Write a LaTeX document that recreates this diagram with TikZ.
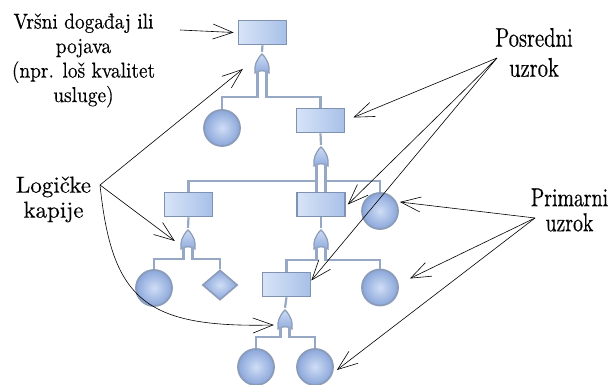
\documentclass[tikz,border=0pt]{standalone}
\usepackage{fontspec}
\newfontfamily\fleft[Extension=.otf, FakeStretch=0.9, FakeBold=0.3]{lmroman10-regular}
\newfontfamily\fmid[Extension=.otf, FakeBold=0.3]{lmroman10-regular}
\newfontfamily\fright[Extension=.otf, FakeStretch=0.76, FakeBold=0.3]{lmroman10-regular}
\usetikzlibrary{arrows.meta,calc,shapes.geometric}
\definecolor{boxline}{RGB}{128,146,178}
\definecolor{boxa}{RGB}{216,228,247}
\definecolor{boxb}{RGB}{168,192,232}
\definecolor{connc}{RGB}{150,168,196}
\definecolor{circa}{RGB}{208,222,246}
\definecolor{circb}{RGB}{138,166,218}
\definecolor{circline}{RGB}{140,156,184}
\begin{document}
\begin{tikzpicture}[x=1pt,y=-1pt,
  evbox/.style={draw=boxline, line width=1.6pt, left color=boxa, right color=boxb, minimum width=48pt, minimum height=24pt, inner sep=0pt},
  basic/.style={circle, draw=circline, line width=1.8pt, inner color=circa, outer color=circb, minimum size=36pt, inner sep=0pt},
  undev/.style={diamond, draw=circline, line width=1.6pt, inner color=circa, outer color=circb, minimum width=35pt, minimum height=30pt, inner sep=0pt},
  gate/.style={minimum width=18pt, minimum height=22pt, inner sep=0pt,
    path picture={\draw[shift={(path picture bounding box.center)}, draw=circline, line width=1.2pt, top color=circa, bottom color=circb]
      (0,-10) .. controls (2.5,-8) and (6.5,-2) .. (7,3) -- (7,9)
      .. controls (3,6) and (-3,6) .. (-7,9) -- (-7,3)
      .. controls (-6.5,-2) and (-2.5,-8) .. cycle;}},
  conn/.style={draw=connc, line width=2.2pt},
  ann/.style={draw=black, line width=0.6pt, -{Straight Barb[length=20pt,width=15pt]}},
  lbl/.style={align=center, inner sep=0pt}
]
\useasboundingbox (0,0) rectangle (608,385);

% events
\node[evbox] (b1) at (262.5,32.5) {};
\node[evbox] (b2) at (320.5,120.5) {};
\node[evbox] (b3) at (188.5,204.5) {};
\node[evbox] (b4) at (321,204.5) {};
\node[evbox] (b5) at (286.5,284.5) {};
% gates
\node[gate] (g1) at (262,64) {};
\node[gate] (g2) at (321,157) {};
\node[gate] (g3) at (188,240) {};
\node[gate] (g4) at (321,240) {};
\node[gate] (g5) at (285,320) {};
% basic events
\node[basic] (c1) at (222,128) {};
\node[basic] (c2) at (380,211) {};
\node[basic] (c3) at (154,288) {};
\node[basic] (c4) at (380,287.5) {};
\node[basic] (c5) at (256,367) {};
\node[basic] (c6) at (315,367) {};
\node[undev] (d1) at (220,285) {};

% junction levels
\coordinate (j1) at (0,97);
\coordinate (j2) at (0,181);
\coordinate (j3) at (0,259);
\coordinate (j4) at (0,260);
\coordinate (j5) at (0,337);
% gate legs
\foreach \g in {g1,g2,g3,g4,g5}{
  \coordinate (\g l) at ([shift={(-4.5,-4)}]\g.south);
  \coordinate (\g r) at ([shift={(4.5,-4)}]\g.south);
}
% connectors
\draw[conn] (b1.south) -- ([yshift=1pt]g1.north);
\draw[conn] (b2.south) -- ([yshift=1pt]g2.north);
\draw[conn] (b3.south) -- ([yshift=1pt]g3.north);
\draw[conn] (b4.south) -- ([yshift=1pt]g4.north);
\draw[conn] (b5.south) -- ([yshift=1pt]g5.north);

\draw[conn] (g1l) -- (g1l |- j1) -| (c1.north);
\draw[conn] (g1r) -- (g1r |- j1) -| (b2.north);

\draw[conn] (g2l) -- (g2l |- b4.north);
\draw[conn] (g2r) -- (g2r |- b4.north);
\draw[conn] (g2l |- j2) -| (b3.north);
\draw[conn] (g2r |- j2) -| (c2.north);

\draw[conn] (g3l) -- (g3l |- j3) -| (c3.north);
\draw[conn] (g3r) -- (g3r |- j3) -| (d1.north);

\draw[conn] (g4l) -- (g4l |- j4) -| (b5.north);
\draw[conn] (g4r) -- (g4r |- j4) -| (c4.north);

\draw[conn] (g5l) -- (g5l |- j5) -| (c5.north);
\draw[conn] (g5r) -- (g5r |- j5) -| (c6.north);

% labels
\node[lbl, font=\fleft\fontsize{21.5}{24.5}\selectfont] (t1) at (83.5,60.5) {Vršni događaj ili\\pojava\\(npr. loš kvalitet\\usluge)};
\node[lbl, font=\fmid\fontsize{23}{25}\selectfont] (t2) at (53.5,199.5) {Logičke\\kapije};
\node[lbl, font=\fright\fontsize{27}{30}\selectfont] (t3) at (534,52.5) {Posredni\\uzrok};
\node[lbl, font=\fright\fontsize{26}{25}\selectfont] (t4) at (569.5,210) {Primarni\\uzrok};

\coordinate (s1) at (180,30);
\coordinate (s2) at (100,185);
\coordinate (s3) at (497,58);
\coordinate (s4) at (535,218);

\draw[ann] (s1) -- ([xshift=-4pt]b1.west);
\draw[ann] (s2) -- ([shift={(-10,5)}]g1.west);
\draw[ann] (s2) -- ([shift={(-4,1)}]g3.west);
\draw[ann] (s2) .. controls (112,300) and (145,328) .. ([shift={(-2,5)}]g5.west);
\draw[ann] (s3) -- ([shift={(8,-3)}]b2.east);
\draw[ann] (s3) -- ([shift={(2,0)}]b4.east);
\draw[ann] (s3) -- ([shift={(0,-4)}]b5.east);
\draw[ann] (s4) -- ([shift={(1,-9)}]c2.east);
\draw[ann] (s4) -- ([shift={(11,-9)}]c4.east);
\draw[ann] (s4) -- ([shift={(3,3)}]c6.east);
\end{tikzpicture}
\end{document}
